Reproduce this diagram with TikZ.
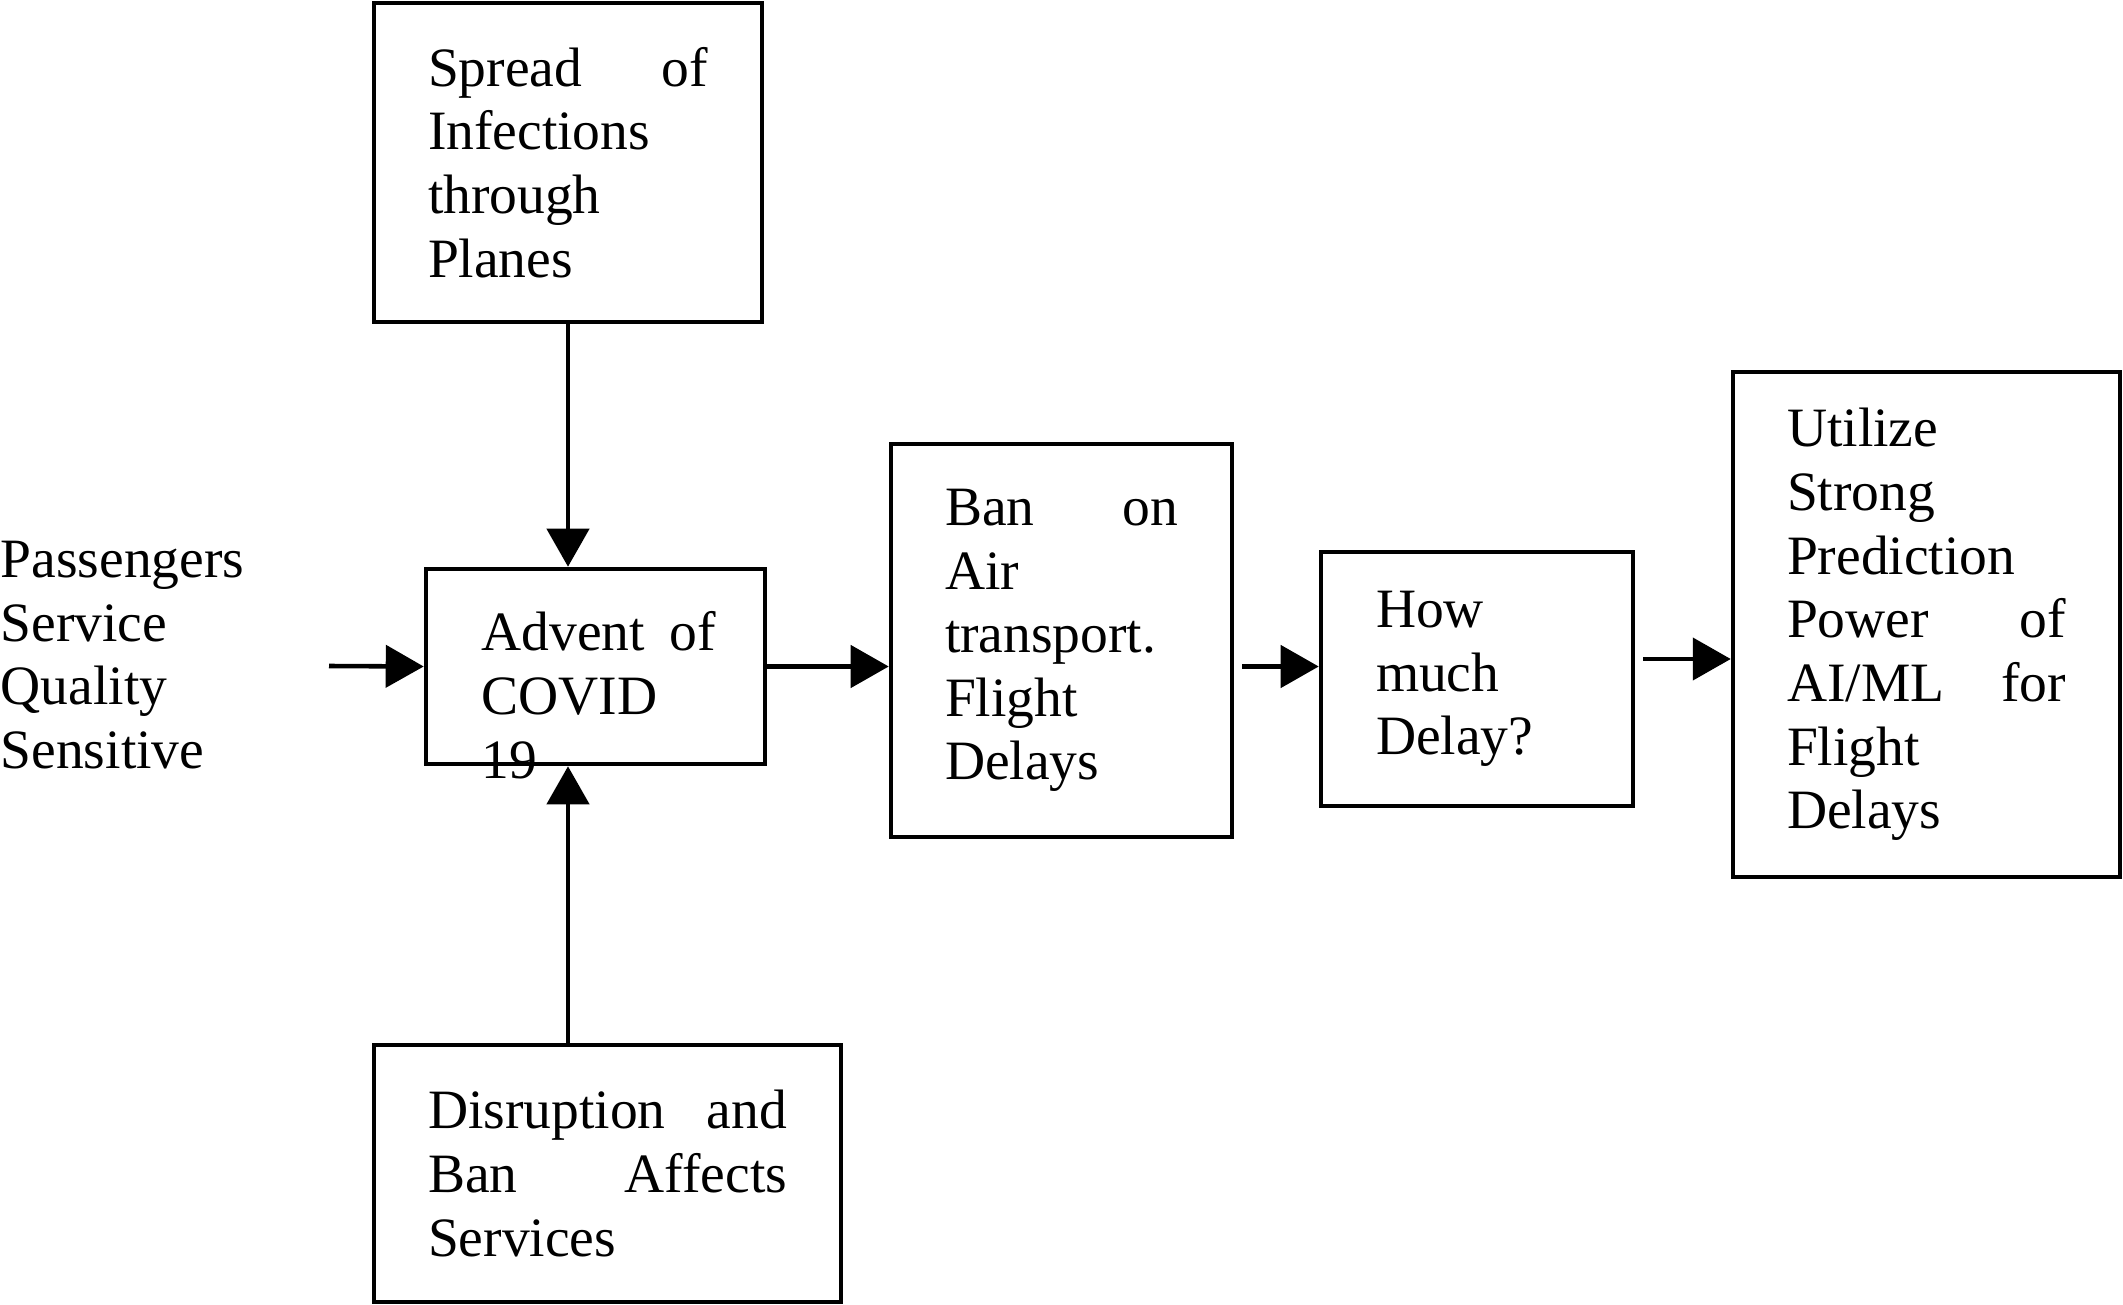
\documentclass[tikz,border=0pt]{standalone}
\usepackage{fontspec}
\setmainfont{Liberation Serif}
\usepackage{tikz}
\usetikzlibrary{arrows.meta, positioning, calc}

\tikzset{
  block/.style={draw, line width=1.3pt, inner xsep=0.54cm, inner ysep=0pt, align=left,
    font=\fontsize{15.8}{18.1}\selectfont},
  flow/.style={line width=1.3pt, -{Triangle[length=0.38cm, width=0.42cm]}},
}

\begin{document}
\begin{tikzpicture}
  \useasboundingbox (0, 0) rectangle (21.23, 13.04);

  % Source boxes
  \node[block, text width=2.80cm, minimum width=3.88cm, minimum height=3.19cm] (spread) at (5.68, 11.415) {
    Spread\hfill of\\ Infections\\ through\\ Planes
  };
  \node[block, text width=3.59cm, minimum width=4.67cm, minimum height=2.57cm] (disrupt) at (6.075, 1.305) {
    Disruption\hfill and\\ Ban\hfill Affects\\ Services
  };
  \node[font=\fontsize{15.8}{18.1}\selectfont, align=left, anchor=west, inner sep=0pt] (pass) at (0, 6.49) {
    Passengers\\ Service\\ Quality\\ Sensitive
  };
  \coordinate (passin) at (3.29, 6.38);

  % Main chain
  \node[draw, line width=1.3pt, minimum width=3.39cm, minimum height=1.95cm] (covid) at (5.955, 6.375) {};
  \node[font=\fontsize{15.8}{18.1}\selectfont, align=left, text width=2.34cm, anchor=north west, inner sep=0pt] (covidtxt) at (4.81, 6.93) {
    Advent\hfill of\\ COVID\\ 19
  };
  \node[block, text width=2.33cm, minimum width=3.41cm, minimum height=3.93cm] (ban) at (10.615, 6.635) {
    Ban\hfill on\\ Air\\ transport.\\ Flight\\ Delays
  };
  \node[block, text width=2.02cm, minimum width=3.12cm, minimum height=2.54cm] (howmuch) at (14.77, 6.25) {
    How\\ much\\ Delay?
  };
  \node[block, text width=2.79cm, minimum width=3.87cm, minimum height=5.05cm] (utilize) at (19.265, 6.795) {
    Utilize\\ Strong\\ Prediction\\ Power\hfill of\\ AI/ML\hfill for\\ Flight\\ Delays
  };
  \coordinate (howout) at ($(howmuch.east)+(0, 0.2)$);

  % Arrows
  \draw[flow] (spread.south) -- (spread.south |- covid.north);
  \draw[flow] (disrupt.north -| spread.south) -- (covid.south -| spread.south);
  \draw[flow] (passin) -- (covid.west);
  \draw[flow] (covid.east) -- (covid.east -| ban.west);
  \draw[flow, shorten <=0.08cm] (covid.east -| ban.east) -- (covid.east -| howmuch.west);
  \draw[flow, shorten <=0.08cm] (howout) -- (howout -| utilize.west);
\end{tikzpicture}
\end{document}
